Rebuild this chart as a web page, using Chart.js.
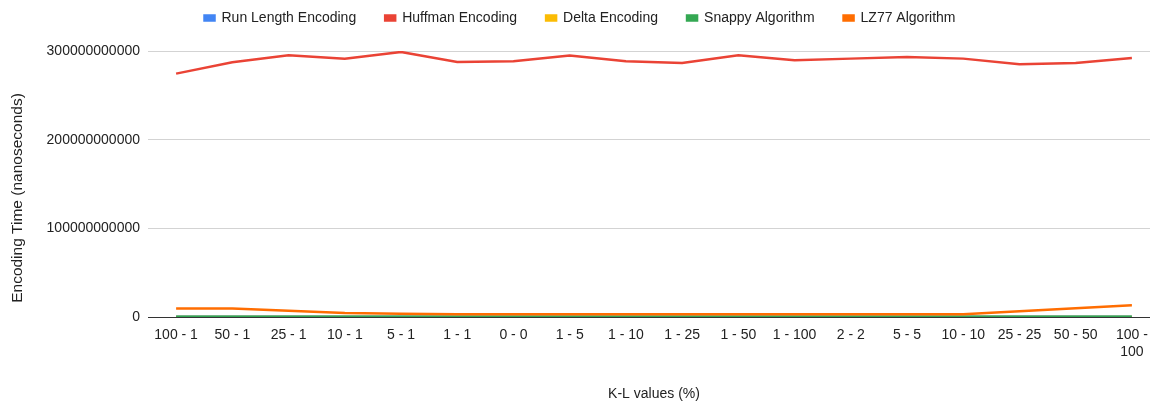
<!DOCTYPE html>
<html>
<head>
<meta charset="utf-8">
<script src="https://cdn.jsdelivr.net/npm/chart.js@4"></script>
<style>
  html, body { margin: 0; padding: 0; background: #fff; overflow: hidden; }
  #wrap { width: 1160px; height: 403px; }
</style>
</head>
<body>
<div id="wrap"><canvas id="myChart" width="1160" height="403"></canvas></div>
<script>
// K-L combinations on the x axis
const klValues = ['100 - 1', '50 - 1', '25 - 1', '10 - 1', '5 - 1', '1 - 1', '0 - 0', '1 - 5', '1 - 10',
  '1 - 25', '1 - 50', '1 - 100', '2 - 2', '5 - 5', '10 - 10', '25 - 25', '50 - 50', '100 - 100']

// encoding time in nanoseconds
const runLength = [0.2e9, 0.2e9, 0.2e9, 0.2e9, 0.2e9, 0.2e9, 0.2e9, 0.2e9, 0.2e9,
  0.2e9, 0.2e9, 0.2e9, 0.2e9, 0.2e9, 0.2e9, 0.2e9, 0.2e9, 0.2e9]
const huffman = [274.5e9, 287.2e9, 295.1e9, 291.4e9, 298.9e9, 287.6e9, 288.4e9, 294.8e9, 288.4e9,
  286.5e9, 295.1e9, 289.5e9, 291.4e9, 293.2e9, 291.4e9, 285e9, 286.5e9, 292.1e9]
const delta = [0.1e9, 0.1e9, 0.1e9, 0.1e9, 0.1e9, 0.1e9, 0.1e9, 0.1e9, 0.1e9,
  0.1e9, 0.1e9, 0.1e9, 0.1e9, 0.1e9, 0.1e9, 0.1e9, 0.1e9, 0.1e9]
const snappy = [0.3e9, 0.3e9, 0.3e9, 0.3e9, 0.3e9, 0.3e9, 0.3e9, 0.3e9, 0.3e9,
  0.3e9, 0.3e9, 0.3e9, 0.3e9, 0.3e9, 0.3e9, 0.3e9, 0.3e9, 0.3e9]
const lz77 = [9.5e9, 9.5e9, 7e9, 4.5e9, 3.6e9, 3e9, 3e9, 3e9, 3e9,
  3e9, 3e9, 3e9, 3e9, 3e9, 3e9, 6.6e9, 10e9, 13.2e9]

const yTicks = [0, 100000000000, 200000000000, 300000000000]
const yTitle = 'Encoding Time (nanoseconds)'

const font = "'Liberation Sans', Arial, sans-serif"
Chart.defaults.font.family = font
Chart.defaults.font.size = 14
Chart.defaults.color = '#222'

function line(label, data, color, order) {
  return {
    label: label,
    data: data,
    borderColor: color,
    backgroundColor: color,
    borderWidth: 2.5,
    pointRadius: 0,
    tension: 0,
    fill: false,
    order: order
  }
}

// space between legend and plot
const legendGap = {
  id: 'legendGap',
  beforeInit(chart) {
    const fit = chart.legend.fit
    chart.legend.fit = function () {
      fit.bind(chart.legend)()
      this.height += 16
    }
  }
}

// y axis title, placed a bit lower than the plot centre like the original
const yTitlePlugin = {
  id: 'yTitle',
  afterDraw(chart) {
    const c = chart.ctx
    c.save()
    c.translate(18, 198)
    c.rotate(-Math.PI / 2)
    c.font = '15.5px ' + font
    c.fillStyle = '#222'
    c.textAlign = 'center'
    c.textBaseline = 'middle'
    c.fillText(yTitle, 0, 0)
    c.restore()
  }
}

const ctx = document.getElementById('myChart').getContext('2d')
const chart = new Chart(ctx, {
  type: 'line',
  data: {
    labels: klValues,
    datasets: [
      line('Run Length Encoding', runLength, '#4285F4', 5),
      line('Huffman Encoding', huffman, '#EA4335', 4),
      line('Delta Encoding', delta, '#FBBC04', 3),
      line('Snappy Algorithm', snappy, '#34A853', 2),
      line('LZ77 Algorithm', lz77, '#FF6D01', 1)
    ]
  },
  options: {
    responsive: false,
    animation: false,
    devicePixelRatio: 1,
    layout: { padding: { left: 0, right: 0, top: -18, bottom: 0 } },
    plugins: {
      legend: {
        position: 'top',
        labels: {
          boxWidth: 10,
          boxHeight: 5,
          padding: 29,
          color: '#222',
          font: { size: 14 },
          sort: (a, b) => a.datasetIndex - b.datasetIndex
        }
      },
      tooltip: { enabled: false }
    },
    scales: {
      x: {
        offset: true,
        grid: { display: false, drawTicks: false },
        border: { display: false },
        ticks: {
          maxRotation: 0,
          autoSkip: false,
          padding: 10,
          callback: function (v, i) {
            const s = klValues[i]
            return i === klValues.length - 1 ? ['100 -', '100'] : s
          }
        },
        title: {
          display: true,
          text: 'K-L values (%)',
          padding: { top: 0, bottom: 0 }
        },
        afterFit: function (scale) { scale.height = 86 }
      },
      y: {
        min: 0,
        max: 300000000000,
        afterBuildTicks: function (scale) {
          scale.ticks = yTicks.map(v => ({ value: v }))
        },
        grid: {
          drawTicks: false,
          color: c => (c.tick && c.tick.value === 0) ? '#333' : '#d3d3d3'
        },
        border: { display: false },
        ticks: {
          padding: 8,
          callback: v => String(v)
        },
        title: { display: false },
        afterFit: function (scale) { scale.width = 148 }
      }
    }
  },
  plugins: [legendGap, yTitlePlugin]
})
</script>
</body>
</html>
